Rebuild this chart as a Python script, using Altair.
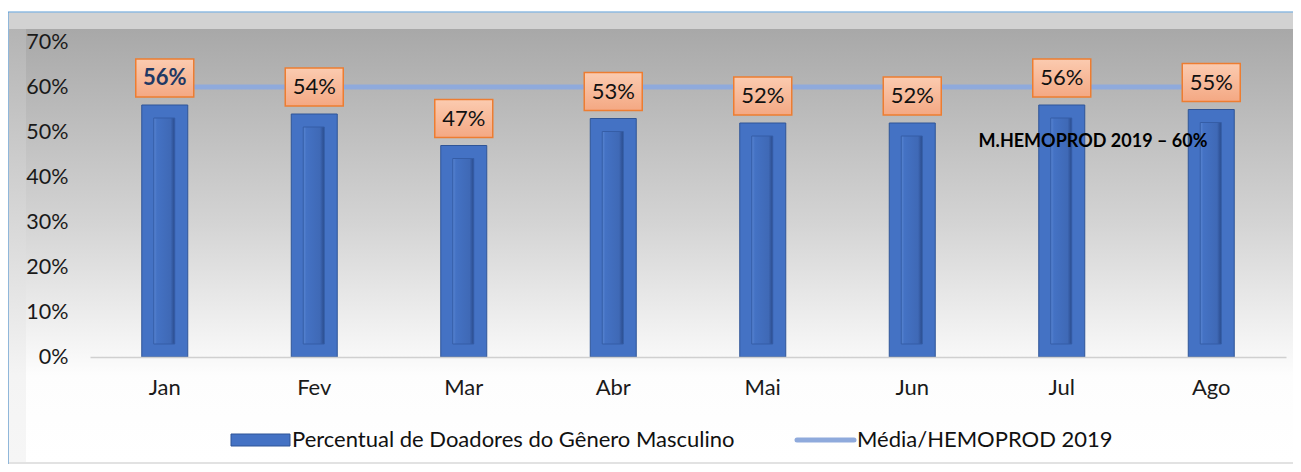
import altair as alt
import pandas as pd

months = ["Jan", "Fev", "Mar", "Abr", "Mai", "Jun", "Jul", "Ago"]
values = [56, 54, 47, 53, 52, 52, 56, 55]
mean_values = [60, 60, 60, 60, 60, 60, 60, 60]
y_ticks = [0, 10, 20, 30, 40, 50, 60, 70]
series_name = "Percentual de Doadores do Gênero Masculino"
mean_name = "Média/HEMOPROD 2019"
note = "M.HEMOPROD 2019 – 60%"

df = pd.DataFrame({"month": months, "value": values, "mean": mean_values})
one = pd.DataFrame({"k": [0]})

FONT = "Lato"
W, H = 1196, 315

xenc = alt.X("month:N", sort=months,
             scale=alt.Scale(paddingInner=0, paddingOuter=0),
             axis=alt.Axis(title=None, labelAngle=0, ticks=False, labelFontSize=22,
                           labelFont=FONT, labelColor="#1a1a1a", labelPadding=20,
                           domainColor="#d0d0d0", domainWidth=1.5, zindex=1))
yscale = alt.Scale(domain=[0, 70], nice=False)
yenc = alt.Y("value:Q", scale=yscale,
             axis=alt.Axis(title=None, values=y_ticks, labelExpr="datum.value + '%'",
                           ticks=False, domain=False, grid=False, labelFontSize=21.5,
                           labelFont=FONT, labelColor="#1a1a1a", labelPadding=22, zindex=1))


def grad_v(stops):
    return {"gradient": "linear", "x1": 0, "y1": 0, "x2": 0, "y2": 1,
            "stops": [{"offset": o, "color": c} for o, c in stops]}


def grad_h(stops):
    return {"gradient": "linear", "x1": 0, "y1": 0, "x2": 1, "y2": 0,
            "stops": [{"offset": o, "color": c} for o, c in stops]}


def deco_rect(x1, x2, y1, y2, fill, **kw):
    return alt.Chart(one).mark_rect(color=fill, **kw).encode(
        x=alt.value(x1), x2=alt.value(x2), y=alt.value(y1), y2=alt.value(y2))


# frame (pixel positions relative to plot origin)
frame = deco_rect(-82, 1210, -30, 430, "#e2e2e2", stroke="#5B9BD5", strokeWidth=1.2)
top_band = deco_rect(-81, 1209, -29, -13, "#d2d2d2")
left_band = deco_rect(-81, -64, -13, 420, grad_v([(0, "#b4b4b4"), (0.8, "#f4f4f4"), (1, "#f6f6f6")]))
right_band = deco_rect(1204, 1209, -13, 420, grad_v([(0, "#8f8f8f"), (1, "#d4d4d4")]))
face = deco_rect(-64, 1204, -13, 420, grad_v([(0, "#a8a8a8"), (0.45, "#d4d4d4"), (0.8, "#fdfdfd"), (1, "#ffffff")]))

base = alt.Chart(df)

bars = base.mark_bar(size=46, color="#4472C4", stroke="#2F5597", strokeWidth=1).encode(x=xenc, y=yenc)
inner = base.mark_bar(size=21, xOffset=-0.5, yOffset=13, y2Offset=-13,
                      color=grad_h([(0, "#5a86d2"), (0.15, "#4472C4"), (0.8, "#3f69b6"), (1, "#2a4b8c")]),
                      stroke="#355da6", strokeWidth=1).encode(
    x=alt.X("month:N", sort=months), y=alt.Y("value:Q", scale=yscale), y2=alt.datum(0))

mean_line = base.mark_line(color="#8FAADC", strokeWidth=5).encode(
    x=alt.X("month:N", sort=months), y=alt.Y("mean:Q", scale=yscale))

boxes = base.mark_rect(width=58, yOffset=-46, y2Offset=-8,
                       color=grad_v([(0, "#fbcbb0"), (1, "#f4a883")]),
                       stroke="#ED7D31", strokeWidth=1.5).encode(
    x=alt.X("month:N", sort=months), y=alt.Y("value:Q", scale=yscale), y2="value:Q")

lbl_first = base.transform_filter(alt.datum.month == "Jan").mark_text(
    font=FONT, fontSize=22, fontWeight="bold", color="#203864", baseline="middle", dy=-27).encode(
    x=alt.X("month:N", sort=months), y=alt.Y("value:Q", scale=yscale),
    text=alt.Text("lbl:N")).transform_calculate(lbl="datum.value + '%'")
lbl_rest = base.transform_filter(alt.datum.month != "Jan").mark_text(
    font=FONT, fontSize=22, color="#111111", baseline="middle", dy=-27).encode(
    x=alt.X("month:N", sort=months), y=alt.Y("value:Q", scale=yscale),
    text=alt.Text("lbl:N")).transform_calculate(lbl="datum.value + '%'")

note_txt = alt.Chart(one).mark_text(font=FONT, fontSize=18, fontWeight="bold", color="#000000",
                                     align="center", baseline="middle").encode(
    x=alt.value(1003), y=alt.value(100), text=alt.value(note))

# legend
leg_rect = deco_rect(141, 200, 392, 404, "#4472C4", stroke="#2F5597", strokeWidth=1)
leg_txt1 = alt.Chart(one).mark_text(font=FONT, fontSize=22, color="#111111", align="left",
                                     baseline="middle").encode(
    x=alt.value(202), y=alt.value(398), text=alt.value(series_name))
leg_line = alt.Chart(one).mark_rule(color="#8FAADC", strokeWidth=5, strokeCap="round").encode(
    x=alt.value(707), x2=alt.value(764), y=alt.value(398))
leg_txt2 = alt.Chart(one).mark_text(font=FONT, fontSize=22, color="#111111", align="left",
                                     baseline="middle").encode(
    x=alt.value(767), y=alt.value(398), text=alt.value(mean_name))

chart = alt.layer(
    frame, top_band, left_band, right_band, face,
    bars, inner, mean_line, boxes, lbl_first, lbl_rest, note_txt,
    leg_rect, leg_txt1, leg_line, leg_txt2,
).properties(
    width=W, height=H,
    autosize=alt.AutoSizeParams(type="none"),
    padding={"left": 82, "top": 34, "right": 7, "bottom": 107},
    background="white",
).configure_view(stroke=None)

chart.save("out.html", embed_options={"renderer": "svg", "actions": False})
